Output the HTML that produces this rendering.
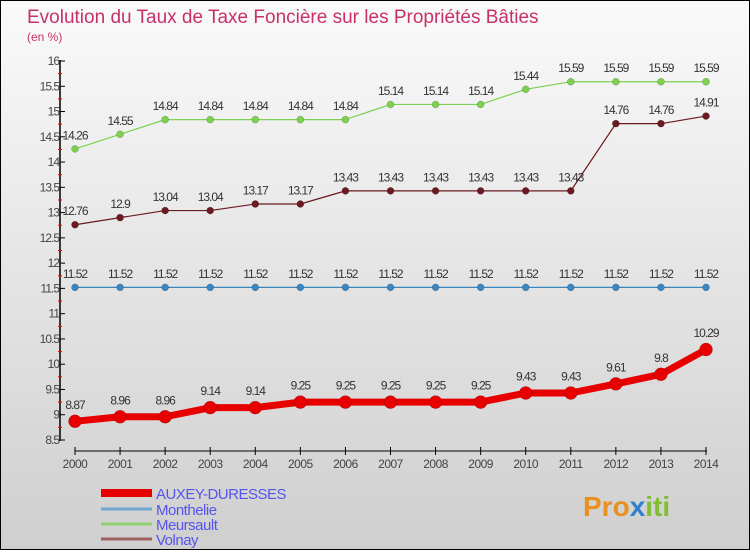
<!DOCTYPE html>
<html><head><meta charset="utf-8">
<style>
html,body{margin:0;padding:0;}
body{width:750px;height:550px;overflow:hidden;font-family:"Liberation Sans",sans-serif;}
#wrap{position:relative;width:748px;height:548px;border:1px solid #000;background:linear-gradient(#fafafa,#cfcfcf);}
svg text{font-family:"Liberation Sans",sans-serif;}
</style></head>
<body>
<div id="wrap">
<svg id="chart" width="748" height="548">
<text x="26" y="22" font-size="19" fill="#c8306a">Evolution du Taux de Taxe Foncière sur les Propriétés Bâties</text>
<text x="26" y="40" font-size="12" fill="#c8306a">(en %)</text>
<g id="axes"></g>
<g id="series"></g>
<g id="legend"></g>
<text x="582" y="515" font-size="28" font-weight="bold" fill="#e89020">Pro<tspan fill="#3080d0">x</tspan><tspan fill="#80c030">iti</tspan></text>
</svg>
</div>
<script>
const years=[2000,2001,2002,2003,2004,2005,2006,2007,2008,2009,2010,2011,2012,2013,2014];
const auxey=[8.87,8.96,8.96,9.14,9.14,9.25,9.25,9.25,9.25,9.25,9.43,9.43,9.61,9.8,10.29];
const monthelie=[11.52,11.52,11.52,11.52,11.52,11.52,11.52,11.52,11.52,11.52,11.52,11.52,11.52,11.52,11.52];
const meursault=[14.26,14.55,14.84,14.84,14.84,14.84,14.84,15.14,15.14,15.14,15.44,15.59,15.59,15.59,15.59];
const volnay=[12.76,12.9,13.04,13.04,13.17,13.17,13.43,13.43,13.43,13.43,13.43,13.43,14.76,14.76,14.91];
const yTicks=[8.5,9,9.5,10,10.5,11,11.5,12,12.5,13,13.5,14,14.5,15,15.5,16];
const seriesNames=["AUXEY-DURESSES","Monthelie","Meursault","Volnay"];
const NS="http://www.w3.org/2000/svg";
function xs(i){return 74+i*(705-74)/(years.length-1);}
function ys(v){return 439-(v-8.5)*(379/7.5);}
function mk(tag,attrs,parent){const e=document.createElementNS(NS,tag);for(const k in attrs)e.setAttribute(k,attrs[k]);parent.appendChild(e);return e;}
const axes=document.getElementById('axes');
let yl=mk('line',{x1:59,y1:59,x2:59,y2:440,stroke:'#000','stroke-width':1.5},axes);


yTicks.forEach((t,i)=>{
  const y=ys(t);
  const tk=mk('line',{x1:59,y1:y,x2:64,y2:y,stroke:'#000'},axes);
  
  
  const tx=mk('text',{x:58,y:y+4,'font-size':12,fill:'#444','text-anchor':'end','letter-spacing':'-1'},axes);
  tx.textContent=String(t);
  
  
  if(i<yTicks.length-1){
    const m=mk('line',{x1:57,y1:ys(t+0.25),x2:61,y2:ys(t+0.25),stroke:'#e00'},axes);
    
    
  }
});
let xl=mk('line',{x1:74,y1:450,x2:706,y2:450,stroke:'#000','stroke-width':1},axes);


years.forEach((yr,i)=>{
  const x=xs(i);
  const tk=mk('line',{x1:x,y1:446,x2:x,y2:454,stroke:'#000'},axes);
  
  
  const tx=mk('text',{x:x,y:467,'font-size':12,fill:'#444','text-anchor':'middle','letter-spacing':'-0.5'},axes);
  tx.textContent=String(yr);
  
  
});
const sg=document.getElementById('series');
function drawSeries(vals,color,w,r,name){
  const g=mk('g',{},sg);
  
  
  const pts=vals.map((v,i)=>xs(i)+','+ys(v)).join(' ');
  const pl=mk('polyline',{points:pts,fill:'none',stroke:color,'stroke-width':w,'stroke-linejoin':'round'},g);
  
  
  vals.forEach((v,i)=>{
    const c=mk('circle',{cx:xs(i),cy:ys(v),r:r,fill:color,stroke:'rgba(0,0,0,0.3)','stroke-width':0.5},g);
    
    
    const t=mk('text',{x:xs(i),y:ys(v)-(r+6),'font-size':12,fill:'#333','text-anchor':'middle','letter-spacing':'-1'},g);
    t.textContent=String(v);
    
    
  });
}
drawSeries(monthelie,'#3a86c0',1.2,3.5,'monthelie');
drawSeries(meursault,'#7dd050',1.2,3.5,'meursault');
drawSeries(volnay,'#6a1a20',1.2,3.5,'volnay');
drawSeries(auxey,'#e80000',7,6.5,'auxey-duresses');
const lg=document.getElementById('legend');
const lc=['#e80000','#70a8d0','#90d070','#a06060'];
const lw=[8,3,3,3];
const ly=[492,508,523,538];
seriesNames.forEach((n,i)=>{
  const l=mk('line',{x1:100,y1:ly[i],x2:151,y2:ly[i],stroke:lc[i],'stroke-width':lw[i]},lg);
  
  
  const t=mk('text',{x:155,y:ly[i]+6,'font-size':15,fill:'#5555ee','letter-spacing':'-0.5'},lg);
  t.textContent=n;
  
  
});
</script>
</body></html>
